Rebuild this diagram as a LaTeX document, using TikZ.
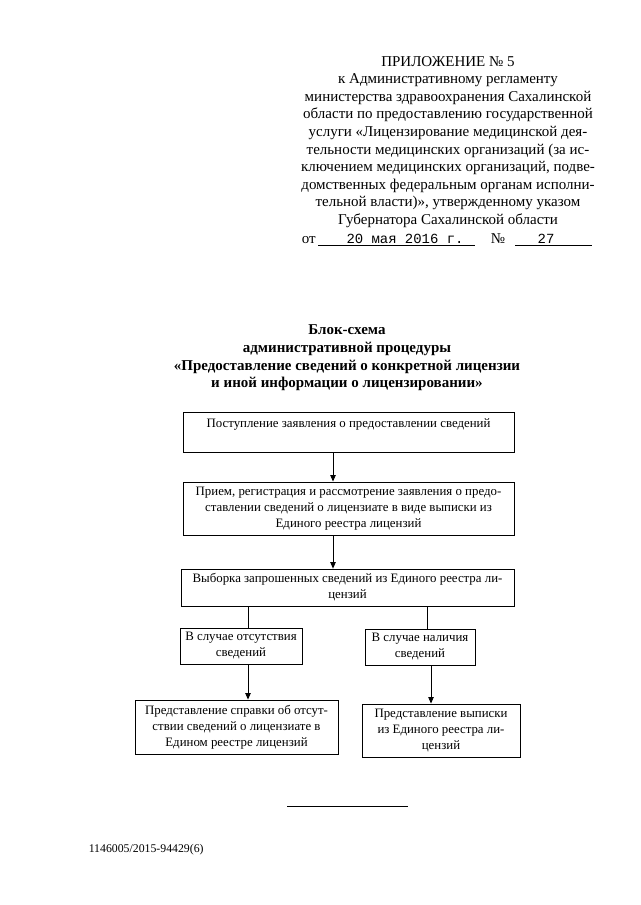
\documentclass[tikz,border=0pt]{standalone}
\usepackage{fontspec}
\setmainfont{Liberation Serif}
\newfontfamily\typefont{Liberation Mono}
\usetikzlibrary{arrows.meta,positioning}

\begin{document}
\begin{tikzpicture}[x=0.0328cm,y=-0.0328cm,
  blk/.style={draw, line width=0.8pt, align=center, inner sep=0pt, font=\fontsize{12}{14.9}\selectfont},
  hdr/.style={align=center, font=\fontsize{14}{16.4}\selectfont},
  ttl/.style={align=center, font=\bfseries\fontsize{14}{16.4}\selectfont},
  arr/.style={line width=0.8pt, -{Triangle[length=6pt,width=5pt]}},
  lnk/.style={line width=0.8pt}
]
\useasboundingbox (0,0) rectangle (640,905);
\node[hdr] (app) at (448,142) {ПРИЛОЖЕНИЕ № 5\\
  к Административному регламенту\\
  министерства здравоохранения Сахалинской\\
  области по предоставлению государственной\\
  услуги «Лицензирование медицинской дея-\\
  тельности медицинских организаций (за ис-\\
  ключением медицинских организаций, подве-\\
  домственных федеральным органам исполни-\\
  тельной власти)», утвержденному указом\\
  Губернатора Сахалинской области};
\node[hdr, anchor=base west] (ot) at (298,243) {от};
\node[font=\typefont\fontsize{13}{15}\selectfont, anchor=base] (date) at (405,243) {20 мая 2016 г.};
\node[hdr, anchor=base] (no) at (498,243) {№};
\node[font=\typefont\fontsize{13}{15}\selectfont, anchor=base] (num) at (546,243) {27};
\draw[lnk] (318,245) -- (475,245);
\draw[lnk] (515,245) -- (592,245);

\node[ttl] (head) at (347,358) {Блок-схема\\
  административной процедуры\\
  «Предоставление сведений о конкретной лицензии\\
  и иной информации о лицензировании»};

\node[blk, minimum width=10.86cm, minimum height=1.31cm, text depth=16pt] (recv) at (348.5,432)
  {Поступление заявления о предоставлении сведений};
\node[blk, minimum width=10.86cm, minimum height=1.74cm] (reg) at (348.5,508.5)
  {Прием, регистрация и рассмотрение заявления о предо-\\
   ставлении сведений о лицензиате в виде выписки из\\
   Единого реестра лицензий};
\node[blk, minimum width=10.92cm, minimum height=1.21cm] (pick) at (347.5,587.5)
  {Выборка запрошенных сведений из Единого реестра ли-\\ цензий};
\node[blk, minimum width=4.00cm, minimum height=1.18cm] (none) at (241,646)
  {В случае отсутствия\\ сведений};
\node[blk, minimum width=3.61cm, minimum height=1.18cm] (have) at (420,647)
  {В случае наличия\\ сведений};
\node[blk, minimum width=6.66cm, minimum height=1.77cm] (ref) at (236.5,727)
  {Представление справки об отсут-\\ ствии сведений о лицензиате в\\ Едином реестре лицензий};
\node[blk, minimum width=5.18cm, minimum height=1.74cm] (ext) at (441,730.5)
  {Представление выписки\\ из Единого реестра ли-\\ цензий};

\coordinate (ca) at (333,0);
\coordinate (cl) at (248,0);
\coordinate (cr) at (427,0);
\coordinate (cs) at (431,0);
\draw[arr] (recv.south -| ca) -- (reg.north -| ca);
\draw[arr] (reg.south -| ca) -- (pick.north -| ca);
\draw[lnk] (pick.south -| cl) -- (none.north -| cl);
\draw[lnk] (pick.south -| cr) -- (have.north -| cr);
\draw[arr] (none.south -| cl) -- (ref.north -| cl);
\draw[arr] (have.south -| cs) -- (ext.north -| cs);

\draw[lnk] (287,806) -- (408,806);
\node[anchor=base west, font=\fontsize{11}{13}\selectfont] (code) at (85,852) {1146005/2015-94429(6)};
\end{tikzpicture}
\end{document}
